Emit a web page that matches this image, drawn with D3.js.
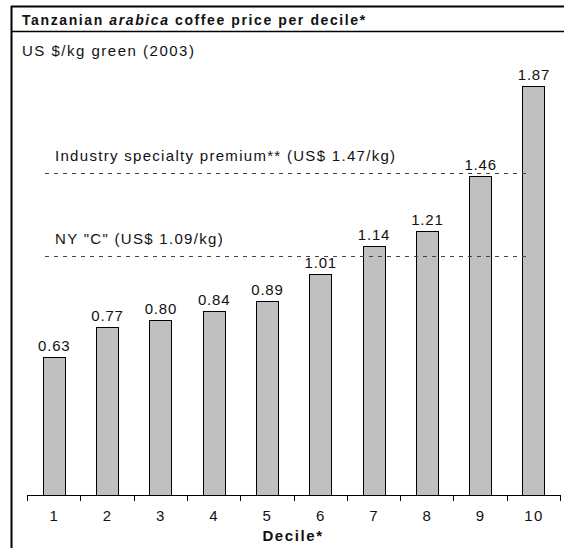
<!DOCTYPE html>
<html>
<head>
<meta charset="utf-8">
<script src="https://cdn.jsdelivr.net/npm/d3@7"></script>
<style>
  body { margin: 0; background: #fff; }
  text { font-family: "Liberation Sans", Arial, sans-serif; fill: #111; font-size: 15px; letter-spacing: 1.3px; }
</style>
</head>
<body>
<div id="chart"></div>
<script>
// data
var deciles = ["1", "2", "3", "4", "5", "6", "7", "8", "9", "10"];
var prices = [0.63, 0.77, 0.80, 0.84, 0.89, 1.01, 1.14, 1.21, 1.46, 1.87];
var priceLabels = ["0.63", "0.77", "0.80", "0.84", "0.89", "1.01", "1.14", "1.21", "1.46", "1.87"];
var refNames = ["Industry specialty premium** (US$ 1.47/kg)", "NY \"C\" (US$ 1.09/kg)"];
var refValues = [1.47, 1.09];

var W = 564, H = 548;
var svg = d3.select("#chart").append("svg")
    .attr("width", W)
    .attr("height", H);

// frame: left and top border + line under title
svg.append("line").attr("x1", 11.5).attr("x2", 11.5).attr("y1", 6).attr("y2", H)
    .attr("stroke", "#000").attr("stroke-width", 2);
svg.append("line").attr("x1", 11).attr("x2", W).attr("y1", 6.5).attr("y2", 6.5)
    .attr("stroke", "#000").attr("stroke-width", 2);
svg.append("line").attr("x1", 11).attr("x2", W).attr("y1", 31.5).attr("y2", 31.5)
    .attr("stroke", "#000").attr("stroke-width", 1.5);

var title = svg.append("text")
    .attr("x", 22).attr("y", 25)
    .style("font-size", "14px").style("font-weight", "bold")
    .style("letter-spacing", "1.6px");
title.append("tspan").text("Tanzanian ");
title.append("tspan").style("font-style", "italic").text("arabica");
title.append("tspan").text(" coffee price per decile*");

svg.append("text")
    .attr("x", 22).attr("y", 56)
    .style("letter-spacing", "1.5px")
    .text("US $/kg green (2003)");

// scales
var x = d3.scaleBand()
    .domain(deciles)
    .range([27, 560])
    .paddingInner(0.59)
    .paddingOuter(0.295);

var y = d3.scaleLinear()
    .domain([0, 2])
    .range([495, 58]);

var step = x.step();

// bars
var bars = svg.append("g").attr("class", "bar");
for (var i = 0; i < deciles.length; i++) {
    bars.append("rect")
        .attr("x", Math.round(x(deciles[i])) + 0.5)
        .attr("y", Math.round(y(prices[i])) + 0.5)
        .attr("width", Math.round(x.bandwidth()))
        .attr("height", Math.round(y(0)) - Math.round(y(prices[i])))
        .attr("fill", "#c0c0c0")
        .attr("stroke", "#000");
    bars.append("text")
        .attr("x", x(deciles[i]) + x.bandwidth() / 2 + 0.6)
        .attr("y", y(prices[i]) - 6)
        .attr("text-anchor", "middle")
        .style("letter-spacing", "0.8px")
        .text(priceLabels[i]);
}

// reference lines (drawn over the bars)
var refs = svg.append("g").attr("class", "refs");
refValues.forEach(function (v, i) {
    refs.append("line")
        .attr("x1", 45).attr("x2", 530)
        .attr("y1", Math.round(y(v)) - 0.5).attr("y2", Math.round(y(v)) - 0.5)
        .attr("stroke", "#444")
        .attr("stroke-dasharray", "4,5");
    refs.append("text")
        .attr("x", 55).attr("y", y(v) - 13)
        .text(refNames[i]);
});

// x axis: ticks on band edges, labels centred
var axis = svg.append("g").attr("class", "axis");
axis.append("line")
    .attr("x1", 27).attr("x2", 560)
    .attr("y1", 495.5).attr("y2", 495.5)
    .attr("stroke", "#000");
var edges = deciles.map(function (d) { return x(d) - x.paddingOuter() * step; });
edges.push(560);
axis.selectAll("line.tick")
    .data(edges)
    .enter().append("line")
    .attr("class", "tick")
    .attr("x1", function (d) { return Math.round(d) + 0.5; })
    .attr("x2", function (d) { return Math.round(d) + 0.5; })
    .attr("y1", 495).attr("y2", 501)
    .attr("stroke", "#000");
axis.selectAll("text.lbl")
    .data(deciles)
    .enter().append("text")
    .attr("class", "lbl")
    .attr("x", function (d) { return x(d) + x.bandwidth() / 2 + 0.6; })
    .attr("y", 521)
    .attr("text-anchor", "middle")
    .text(function (d) { return d; });

svg.append("text")
    .attr("x", 293).attr("y", 541)
    .attr("text-anchor", "middle")
    .style("font-weight", "bold")
    .style("letter-spacing", "1.6px")
    .text("Decile*");
</script>
</body>
</html>
